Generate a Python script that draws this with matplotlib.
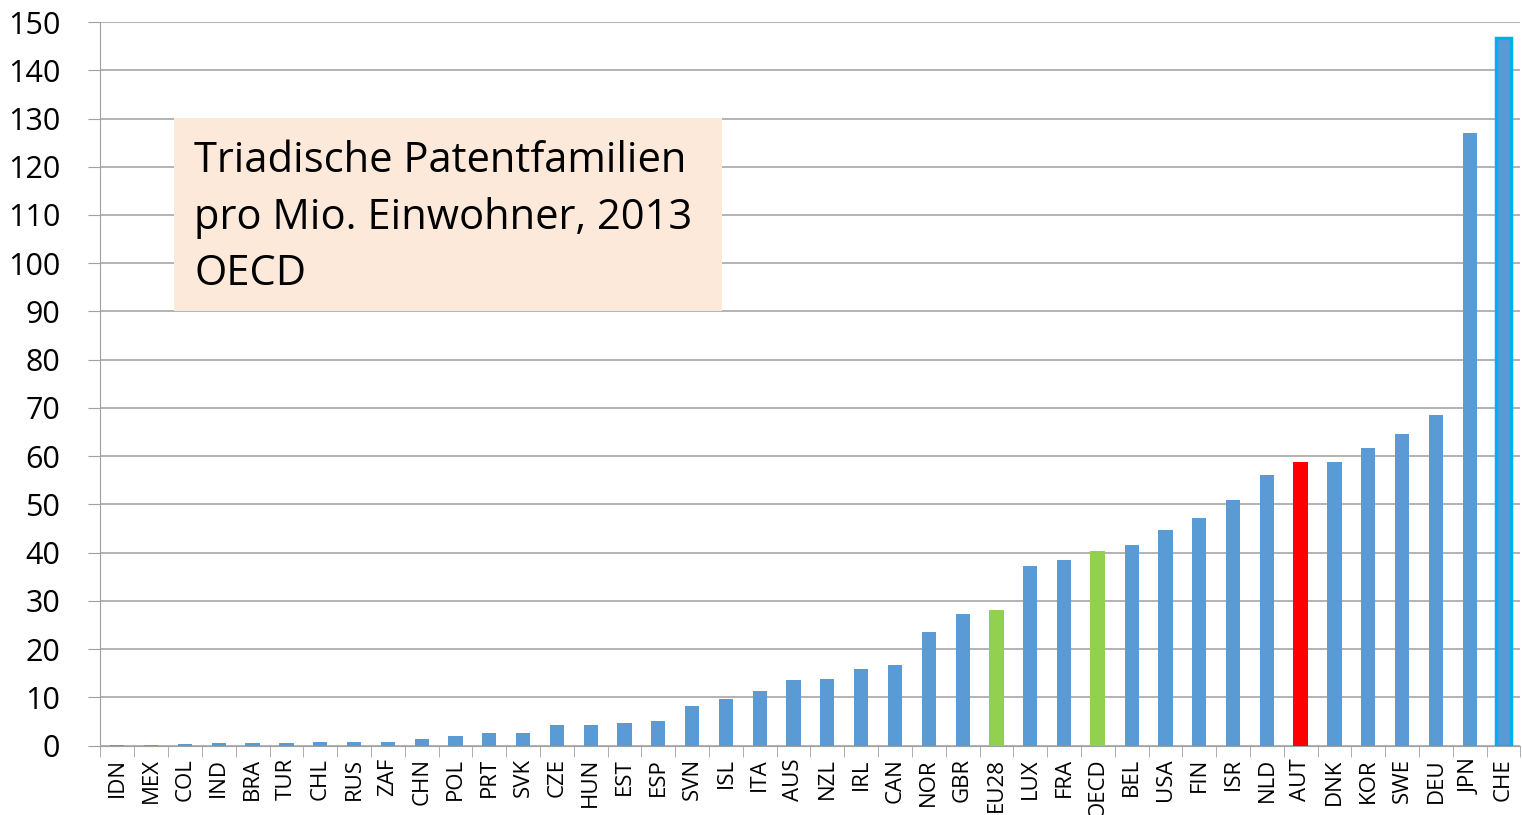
import numpy as np
import matplotlib.pyplot as plt
from matplotlib.patches import Rectangle
from matplotlib.ticker import FixedLocator

countries = ['IDN', 'MEX', 'COL', 'IND', 'BRA', 'TUR', 'CHL', 'RUS', 'ZAF', 'CHN',
             'POL', 'PRT', 'SVK', 'CZE', 'HUN', 'EST', 'ESP', 'SVN', 'ISL', 'ITA',
             'AUS', 'NZL', 'IRL', 'CAN', 'NOR', 'GBR', 'EU28', 'LUX', 'FRA', 'OECD',
             'BEL', 'USA', 'FIN', 'ISR', 'NLD', 'AUT', 'DNK', 'KOR', 'SWE', 'DEU',
             'JPN', 'CHE']
values = [0.05, 0.1, 0.3, 0.5, 0.5, 0.6, 0.7, 0.8, 0.8, 1.4,
          2.0, 2.7, 2.7, 4.3, 4.3, 4.8, 5.1, 8.3, 9.7, 11.4,
          13.6, 13.8, 15.9, 16.8, 23.5, 27.3, 28.1, 37.3, 38.5, 40.4,
          41.6, 44.7, 47.2, 51.0, 56.1, 58.9, 58.8, 61.7, 64.6, 68.6,
          127.0, 146.6]
green = ['EU28', 'OECD']
red = ['AUT']
outlined = ['CHE']

plt.rcParams['font.family'] = ['Open Sans', 'DejaVu Sans']

fig = plt.figure(figsize=(15.22, 8.15), dpi=100)
ax = fig.add_axes([0.066, 0.085, 0.933, 0.888])

x = np.arange(len(countries))
for i, (c, v) in enumerate(zip(countries, values)):
    if c in green:
        ax.bar(i, v, width=0.44, color='#92D050', zorder=3)
    elif c in red:
        ax.bar(i, v, width=0.46, color='#FF0000', zorder=3)
    elif c in outlined:
        ax.bar(i, v, width=0.42, color='#5B9BD5', edgecolor='#00B0F0', linewidth=2.5, zorder=3)
    else:
        ax.bar(i, v, width=0.42, color='#5B9BD5', zorder=3)

ax.set_xlim(-0.5, len(countries) - 0.5)
ax.set_ylim(0, 150)
ax.set_yticks(range(0, 151, 10))
ax.tick_params(axis='y', labelsize=22, length=9, color='#A0A0A0', pad=20)

ax.set_xticks(x)
ax.set_xticklabels(countries, rotation=90, fontsize=16)
ax.tick_params(axis='x', length=0, pad=9)
ax.xaxis.set_minor_locator(FixedLocator(np.arange(-0.5, len(countries), 1)))
ax.tick_params(axis='x', which='minor', length=8, color='#A0A0A0')

ax.grid(axis='y', color='#A6A6A6', linewidth=1.2, zorder=0)
for s in ['top', 'right']:
    ax.spines[s].set_visible(False)
ax.spines['left'].set_color('#A0A0A0')
ax.spines['bottom'].set_color('#A0A0A0')

# annotation box
fig.patches.append(Rectangle((0.1143, 0.6184), 0.360, 0.2368, transform=fig.transFigure,
                             facecolor='#FDE9D9', edgecolor='none', zorder=5))
fig.text(0.1275, 0.733, 'Triadische Patentfamilien\npro Mio. Einwohner, 2013\nOECD',
         fontsize=30, va='center', ha='left', linespacing=1.45, zorder=6)

fig.savefig('out.png', dpi=100)
